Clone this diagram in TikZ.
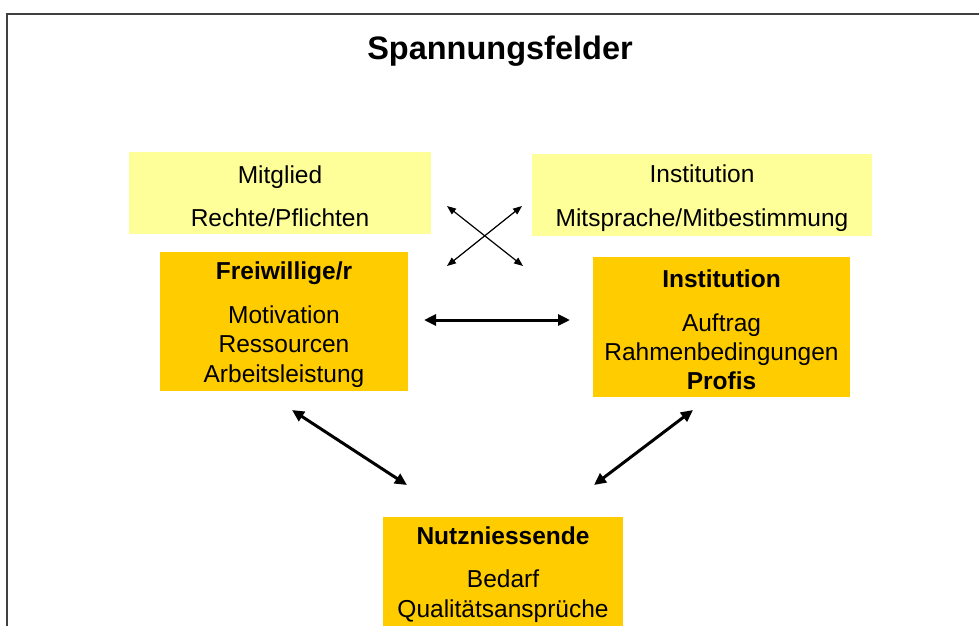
\documentclass[tikz,border=0pt]{standalone}
\usepackage{fontspec}
\setmainfont{Liberation Sans}
\usetikzlibrary{arrows.meta}
\definecolor{hellgelb}{HTML}{FFFF99}
\definecolor{dunkelgelb}{HTML}{FFCC00}
\definecolor{rahmengrau}{HTML}{404040}
\newcommand{\oben}{\rule{0pt}{24pt}} % etwas Luft oben im Kasten

\begin{document}
\begin{tikzpicture}[x=1pt,y=-1pt,font=\fontsize{24.5}{29.4}\selectfont,
    feld/.style={fill=hellgelb,align=center,inner sep=0pt},
    akteur/.style={fill=dunkelgelb,align=center,inner sep=0pt},
    pfeil/.style={line width=3pt,{Triangle[length=12pt,width=11pt]}-{Triangle[length=12pt,width=11pt]}},
    pfeilduenn/.style={line width=1.2pt,{Triangle[length=9pt,width=7pt]}-{Triangle[length=9pt,width=7pt]}}]
    \useasboundingbox (0,0) rectangle (979,625);
    \clip (0,0) rectangle (979,625);
    \draw [rahmengrau,line width=2pt] (7,14) rectangle (1100,700); % Rahmen

    \node [font=\fontsize{32.5}{39}\selectfont\bfseries] (titel) at (500,51) {Spannungsfelder};

    % obere Felder
    \node [feld,minimum width=302pt,minimum height=82pt] (mitglied) at (280,193)
          {\oben Mitglied\\[14pt]Rechte/Pflichten};
    \node [feld,minimum width=340pt,minimum height=82pt] (instfeld) at (702,195)
          {\oben Institution\\[14pt]Mitsprache/Mitbestimmung};

    % Akteure
    \node [akteur,minimum width=248pt,minimum height=139pt] (freiwillige) at (284,321.5)
          {\oben\textbf{Freiwillige/r}\\[14pt]Motivation\\Ressourcen\\Arbeitsleistung};
    \node [akteur,minimum width=257pt,minimum height=140pt] (institution) at (721.5,327)
          {\oben\textbf{Institution}\\[14pt]Auftrag\\Rahmenbedingungen\\\textbf{Profis}};
    \node [akteur,minimum width=240pt,minimum height=109pt] (nutzniessende) at (503,571.5)
          {\oben\textbf{Nutzniessende}\\[14pt]Bedarf\\Qualitätsansprüche};

    % Pfeilenden
    \coordinate (kreuzol) at (447,206);
    \coordinate (kreuzur) at (523,266);
    \coordinate (kreuzor) at (522,206);
    \coordinate (kreuzul) at (447,266);
    \coordinate (mitte-l) at (424,320);
    \coordinate (mitte-r) at (570,320);
    \coordinate (links-o) at (292,410);
    \coordinate (links-u) at (407,485);
    \coordinate (rechts-o) at (693,410);
    \coordinate (rechts-u) at (594,485);

    \draw [pfeilduenn] (kreuzol) -- (kreuzur); % Kreuz
    \draw [pfeilduenn] (kreuzor) -- (kreuzul);
    \draw [pfeil] (mitte-l) -- (mitte-r); % Freiwillige - Institution
    \draw [pfeil] (links-o) -- (links-u); % Freiwillige - Nutzniessende
    \draw [pfeil] (rechts-o) -- (rechts-u); % Institution - Nutzniessende
\end{tikzpicture}
\end{document}
